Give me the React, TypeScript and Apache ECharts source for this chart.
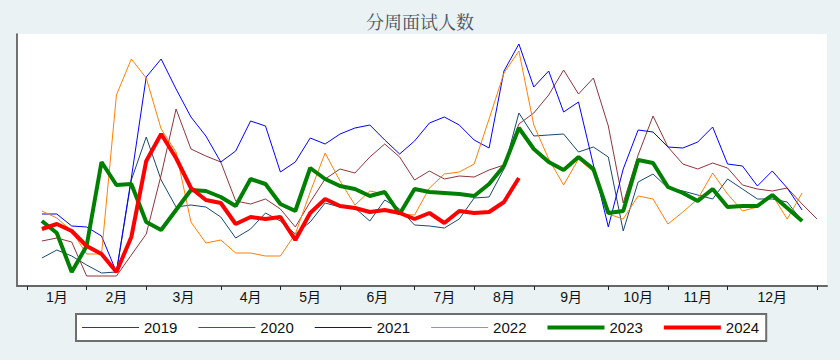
import React, { useEffect, useRef } from 'react';
import * as echarts from 'echarts';

const years = ['2019', '2020', '2021', '2022', '2023', '2024'];
const monthLabels = ['1月', '2月', '3月', '4月', '5月', '6月', '7月', '8月', '9月', '10月', '11月', '12月'];
const monthBoundaryWeeks = [0, 4, 8, 13, 17, 21, 26, 30, 34, 39, 43, 47, 53];

const y2019 = [28, 36, 30, 21, 13, 14, 106, 149, 106, 79, 81, 79, 69, 48, 57, 73, 65, 52, 64, 83, 79, 78, 65, 86, 77, 61, 60, 58, 67, 88, 89, 117, 173, 150, 151, 152, 134, 139, 129, 55, 104, 112, 98, 95, 91, 87, 107, 97, 87, 87, 84, 65];
const y2020 = [45, 48, 44, 10, 10, 10, 31, 52, 111, 177, 137, 130, 124, 85, 82, 87, 77, 59, 84, 107, 117, 113, 129, 142, 129, 106, 115, 107, 110, 109, 116, 121, 162, 173, 191, 216, 192, 208, 160, 83, 131, 170, 139, 122, 117, 123, 118, 101, 97, 95, 98, 82, 67];
const y2021 = [72, 72, 60, 59, 50, 14, 108, 209, 227, 197, 169, 150, 124, 135, 165, 160, 114, 124, 148, 142, 152, 158, 161, 146, 132, 145, 163, 169, 161, 146, 138, 215, 242, 199, 215, 174, 184, 121, 59, 117, 156, 154, 139, 138, 144, 159, 122, 120, 100, 115, 98, 76];
const y2022 = [75, 68, 55, 32, 32, 191, 227, 208, 157, 134, 64, 43, 46, 33, 33, 30, 30, 52, 94, 133, 105, 81, 95, 92, 72, 71, 98, 112, 114, 122, 167, 213, 235, 161, 127, 101, 127, 114, 72, 67, 90, 87, 62, 74, 87, 113, 92, 75, 79, 91, 67, 93];
const y2023 = [65, 53, 14, 40, 124, 101, 102, 64, 56, 76, 96, 95, 89, 80, 107, 102, 82, 75, 118, 107, 100, 97, 90, 94, 72, 97, 94, 93, 92, 90, 102, 120, 158, 137, 124, 116, 129, 117, 73, 75, 126, 123, 99, 93, 85, 97, 79, 80, 80, 91, 78, 65];
const y2024 = [57, 62, 55, 40, 32, 14, 49, 125, 152, 128, 98, 86, 83, 62, 69, 67, 69, 46, 73, 87, 80, 78, 74, 76, 73, 67, 73, 63, 75, 73, 74, 84, 108];

const seriesColors = ['#1a476f', '#90353b', '#0000ff', '#ff8000', '#008000', '#ff0000'];
const seriesWidths = [1, 1, 1, 1, 4, 4];

export default function App() {
  const ref = useRef<HTMLDivElement>(null);
  useEffect(() => {
    const chart = echarts.init(ref.current!, null, { renderer: 'svg' });
    const allValues = [y2019, y2020, y2021, y2022, y2023, y2024];
    const labelWeeks = monthLabels.map((_, i) => (monthBoundaryWeeks[i] + monthBoundaryWeeks[i + 1]) / 2);
    const sansFont = "'Liberation Sans', 'Noto Sans CJK SC', sans-serif";
    chart.setOption({
      animation: false,
      backgroundColor: '#eaf2f3',
      title: {
        text: '分周面试人数',
        left: 'center',
        top: 12,
        padding: 0,
        textStyle: {
          fontSize: 18,
          fontWeight: 'normal',
          color: '#46535f',
          fontFamily: "'Noto Serif CJK SC', 'Noto Sans CJK SC', serif",
        },
      },
      legend: {
        left: 76,
        top: 314,
        orient: 'horizontal',
        padding: [6, 7, 6, 6],
        itemWidth: 57,
        itemHeight: 14,
        itemGap: 21,
        symbolKeepAspect: true,
        backgroundColor: '#ffffff',
        borderColor: '#6e6e6e',
        borderWidth: 2,
        borderRadius: 0,
        data: years.map((name, k) => ({
          name,
          icon: `path://M0,0 H57 V${seriesWidths[k]} H0 Z`,
          itemStyle: { color: seriesColors[k] },
        })),
        textStyle: { fontSize: 15, color: '#111', fontFamily: sansFont },
      },
      grid: {
        left: 17,
        right: 13,
        top: 34,
        bottom: 74,
        show: true,
        backgroundColor: '#ffffff',
        borderWidth: 0,
      },
      xAxis: {
        type: 'value',
        min: -0.67,
        max: 53.67,
        axisLine: { show: true, onZero: false, lineStyle: { color: '#666', width: 2 } },
        axisTick: {
          show: true,
          length: 4,
          customValues: monthBoundaryWeeks,
          lineStyle: { color: '#222', width: 1 },
        },
        axisLabel: {
          show: true,
          customValues: labelWeeks,
          margin: 4,
          fontSize: 14,
          color: '#111',
          fontFamily: sansFont,
          formatter: (v: number) => {
            const i = labelWeeks.findIndex((w) => Math.abs(w - v) < 1e-6);
            return i >= 0 ? monthLabels[i] : '';
          },
        },
        splitLine: { show: false },
      },
      yAxis: {
        type: 'value',
        min: 0,
        max: 252,
        axisLine: { show: true, onZero: false, lineStyle: { color: '#444', width: 1.5 } },
        axisTick: { show: false },
        axisLabel: { show: false },
        splitLine: { show: false },
      },
      series: years.map((name, k) => ({
        name,
        type: 'line',
        symbol: 'none',
        showSymbol: false,
        smooth: false,
        color: seriesColors[k],
        lineStyle: { color: seriesColors[k], width: seriesWidths[k] },
        data: allValues[k].map((v, i) => [i + 1, v]),
        z: 2 + k,
      })),
    });
    return () => chart.dispose();
  }, []);
  return <div ref={ref} style={{ position: 'fixed', left: 0, top: 0, width: 840, height: 360 }} />;
}
